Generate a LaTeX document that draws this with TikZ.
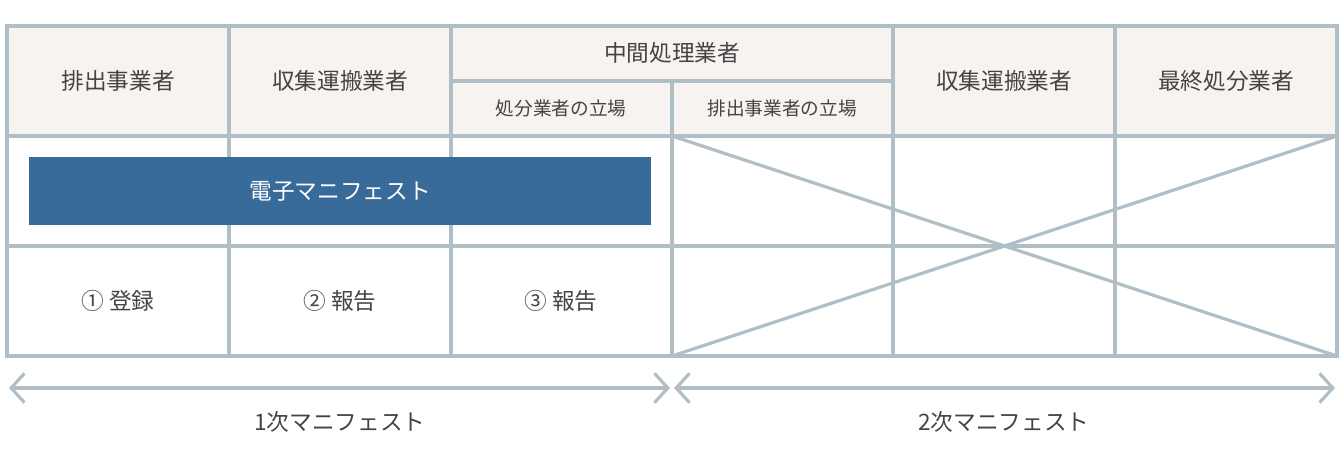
\documentclass[tikz,border=0pt]{standalone}
\usepackage{fontspec}
\newfontfamily\cjk{Noto Sans CJK JP}
\usetikzlibrary{arrows.meta}
\definecolor{grid}{HTML}{B0BEC5}
\definecolor{head}{HTML}{F7F3F1}
\definecolor{blu}{HTML}{386A9A}
\definecolor{txt}{HTML}{444444}
\begin{document}
\begin{tikzpicture}[x=0.75pt,y=-0.75pt,
  gl/.style={draw=grid,line width=2.4pt},
  ht/.style={font=\cjk\fontsize{17}{20}\selectfont,text=txt},
  st/.style={font=\cjk\fontsize{14}{17}\selectfont,text=txt},
  arr/.style={draw=grid,line width=2.4pt,{Straight Barb[length=10pt,width=22pt]}-{Straight Barb[length=10pt,width=22pt]}}]
\useasboundingbox (0,0) rectangle (1344,472);
\fill[head] (7,26) rectangle (1337,136);
\draw[gl] (7,26) rectangle (1337,356);
\foreach \x in {229,451,672,893,1115} \draw[gl] (\x,26) -- (\x,356);
\draw[gl] (7,136) -- (1337,136);
\draw[gl] (7,246) -- (1337,246);
\draw[gl] (451,81) -- (893,81);
\fill[head] (453,28) rectangle (891,79);
\draw[gl] (451,26) -- (893,26) (451,81) -- (893,81);
\draw[gl] (672,136) -- (1337,356) (672,356) -- (1337,136);
\draw[gl] (229,136) -- (229,157) (451,136) -- (451,157);
\node[fill=blu,minimum width=622*0.75pt,minimum height=68*0.75pt,inner sep=0pt,
  font=\cjk\fontsize{17}{20}\selectfont,text=white] (em) at (340,191) {電子マニフェスト};
\node[ht] (h1) at (118,81) {排出事業者};
\node[ht] (h2) at (340,81) {収集運搬業者};
\node[ht] (h3) at (672,53) {中間処理業者};
\node[st] (h3a) at (561,108) {処分業者の立場};
\node[st] (h3b) at (782,108) {排出事業者の立場};
\node[ht] (h4) at (1004,81) {収集運搬業者};
\node[ht] (h5) at (1226,81) {最終処分業者};
\node[ht] (r1) at (118,301) {① 登録};
\node[ht] (r2) at (340,301) {② 報告};
\node[ht] (r3) at (561,301) {③ 報告};
\coordinate (a1) at (9,388); \coordinate (a2) at (670,388);
\coordinate (a3) at (674,388); \coordinate (a4) at (1335,388);
\draw[arr] (a1) -- (a2);
\draw[arr] (a3) -- (a4);
\node[ht] (l1) at (340,422) {1次マニフェスト};
\node[ht] (l2) at (1004,422) {2次マニフェスト};
\end{tikzpicture}
\end{document}
